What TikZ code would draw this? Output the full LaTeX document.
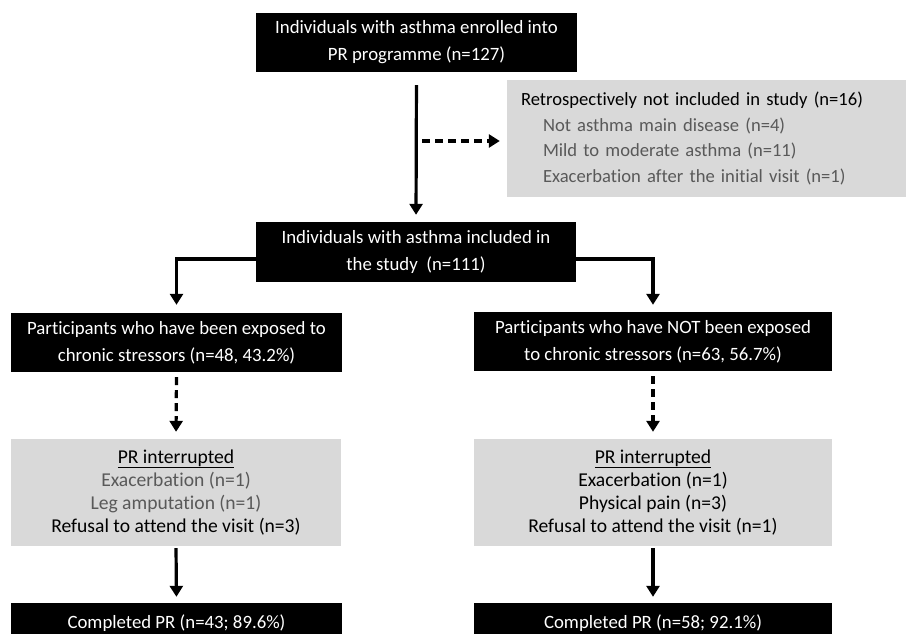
\documentclass[tikz,border=0pt]{standalone}
\usepackage{fontspec}
\setmainfont{Carlito}[Ligatures={NoCommon,NoRare,NoContextual}]
\usepackage{tikz}
\usetikzlibrary{arrows.meta}
\definecolor{boxgray}{HTML}{D9D9D9}
\definecolor{textgray}{HTML}{595959}
\tikzset{
  blackbox/.style={fill=black,text=white,align=center,inner sep=0pt,
    font=\fontsize{18.8}{27}\selectfont},
  graybox/.style={fill=boxgray,text=black,inner sep=0pt,
    font=\fontsize{19.6}{23.3}\selectfont},
  arr/.style={line width=3.2pt,-{Triangle[width=13pt,length=11pt]}},
  dasharr/.style={arr,dash pattern=on 8pt off 5pt}
}
\begin{document}
\begin{tikzpicture}[x=1pt,y=-1pt]
  \clip (0,0) rectangle (908,633);
  \node[blackbox,minimum width=321pt,minimum height=59pt] (enrolled) at (416.5,42.5)
    {Individuals with asthma enrolled into\\PR programme (n=127)};
  \node[graybox,minimum width=399pt,minimum height=117pt,text width=371pt,align=left,
    font=\fontsize{18.6}{25.6}\selectfont] (excluded) at (706.5,138.5)
    {Retrospectively not included in study (n=16)\\
     \hspace*{22pt}\textcolor{textgray}{Not asthma main disease (n=4)}\\
     \hspace*{22pt}\textcolor{textgray}{Mild to moderate asthma (n=11)}\\
     \hspace*{22pt}\textcolor{textgray}{Exacerbation after the initial visit (n=1)}};
  \node[blackbox,minimum width=320pt,minimum height=60pt] (included) at (416,252)
    {Individuals with asthma included in\\the study~~(n=111)};
  \node[blackbox,minimum width=331pt,minimum height=59pt] (exposed) at (176.5,342.5)
    {Participants who have been exposed to\\chronic stressors (n=48, 43.2\%)};
  \node[blackbox,minimum width=358pt,minimum height=59pt] (notexposed) at (653,341.5)
    {Participants who have NOT been exposed\\to chronic stressors (n=63, 56.7\%)};
  \node[graybox,minimum width=330pt,minimum height=107pt,align=center] (interruptA) at (176,492.5)
    {\underline{PR interrupted}\\
     \textcolor{textgray}{Exacerbation (n=1)}\\
     \textcolor{textgray}{Leg amputation (n=1)}\\
     Refusal to attend the visit (n=3)};
  \node[graybox,minimum width=358pt,minimum height=107pt,align=center] (interruptB) at (653,492.5)
    {\underline{PR interrupted}\\
     Exacerbation (n=1)\\
     Physical pain (n=3)\\
     Refusal to attend the visit (n=1)};
  \node[blackbox,minimum width=331pt,minimum height=40pt] (completedA) at (176.5,623)
    {Completed PR (n=43; 89.6\%)};
  \node[blackbox,minimum width=358pt,minimum height=40pt] (completedB) at (653,623)
    {Completed PR (n=58; 92.1\%)};
  \coordinate (split) at (415,141);
  \draw[arr,shorten <=13pt,shorten >=7pt] (enrolled.south) -- (included.north);
  \draw[dasharr,shorten <=7pt,shorten >=7pt] (split) -- (split -| excluded.west);
  \draw[arr,shorten >=8pt] ([yshift=-7pt]included.west) -| (exposed.north);
  \draw[arr,shorten >=7pt] ([yshift=-7pt]included.east) -| (notexposed.north);
  \draw[dasharr,shorten <=5pt,shorten >=7pt] (exposed.south) -- (interruptA.north);
  \draw[dasharr,shorten <=5pt,shorten >=7pt] (notexposed.south) -- (interruptB.north);
  \draw[arr,shorten <=2pt,shorten >=6pt] (interruptA.south) -- (completedA.north);
  \draw[arr,shorten <=2pt,shorten >=6pt] (interruptB.south) -- (completedB.north);
\end{tikzpicture}
\end{document}
